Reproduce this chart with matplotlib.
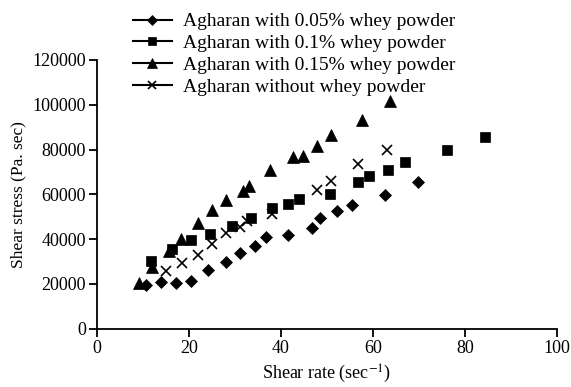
import matplotlib
matplotlib.use("Agg")
import matplotlib.pyplot as plt
from matplotlib.lines import Line2D

plt.rcParams['font.family'] = ['Liberation Serif', 'DejaVu Serif']
plt.rcParams['mathtext.fontset'] = 'stix'

labels = ["Agharan with 0.05% whey powder",
          "Agharan with 0.1% whey powder",
          "Agharan with 0.15% whey powder",
          "Agharan without whey powder"]

x_005 = [10.7, 13.8, 17.2, 20.4, 24.2, 28.1, 31.2, 34.3, 36.7, 41.5, 46.7, 48.5, 52.1, 55.4, 62.6, 69.8]
y_005 = [19600, 21000, 20300, 21200, 26100, 30000, 33600, 37100, 40900, 41800, 44800, 49500, 52400, 55200, 59700, 65300]

x_01 = [11.7, 16.2, 20.4, 24.6, 29.3, 33.5, 38.0, 41.5, 44.0, 50.7, 56.7, 59.1, 63.2, 67.1, 76.1, 84.5]
y_01 = [30400, 35700, 39700, 42400, 45900, 49500, 53900, 55900, 57900, 60300, 65500, 68000, 71000, 74300, 79800, 85600]

x_015 = [9.2, 11.9, 15.7, 18.2, 21.9, 24.9, 28.0, 31.8, 33.1, 37.6, 42.7, 44.7, 47.9, 50.8, 57.7, 63.8]
y_015 = [20300, 27700, 34500, 40100, 47100, 52800, 57300, 61300, 63800, 71000, 76700, 77300, 81400, 86400, 93100, 101600]

x_0 = [15.0, 18.4, 21.9, 24.9, 28.0, 31.2, 32.7, 38.0, 47.8, 51.0, 56.8, 63.1]
y_0 = [25800, 29300, 32700, 37900, 42700, 45600, 47900, 51200, 62100, 66100, 73700, 80000]

x_ticks = [0, 20, 40, 60, 80, 100]
y_ticks = [0, 20000, 40000, 60000, 80000, 100000, 120000]

fig = plt.figure(figsize=(5.71, 3.87), dpi=100)
ax = fig.add_axes([0.170, 0.1506, 0.805, 0.6944])

series = [(x_005, y_005, 'D', 6.5), (x_01, y_01, 's', 7.5), (x_015, y_015, '^', 8), (x_0, y_0, 'x', 6.5)]
for (xs, ys, m, ms) in series:
    ax.plot(xs, ys, linestyle='none', marker=m, markersize=ms, color='black',
            markeredgewidth=1.2 if m == 'x' else 0.5, clip_on=False)

ax.set_xlim(0, 100)
ax.set_ylim(0, 120000)
ax.set_xticks(x_ticks)
ax.set_yticks(y_ticks)
ax.tick_params(direction='out', length=6, width=1.3, labelsize=13, colors='black', pad=2)
for s in ['top', 'right']:
    ax.spines[s].set_visible(False)
for s in ['left', 'bottom']:
    ax.spines[s].set_linewidth(1.3)
ax.set_xlabel("Shear rate (sec$^{-1}$)", fontsize=13, labelpad=4)
ax.set_ylabel("Shear stress (Pa. sec)", fontsize=12.5, labelpad=4)

handles = []
for (xs, ys, m, ms) in series:
    handles.append(Line2D([0], [0], color='black', lw=1.5, marker=m,
                          markersize=ms * 0.85, markeredgewidth=1.2 if m == 'x' else 0.5))
fig.legend(handles, labels, loc='upper left', bbox_to_anchor=(0.233, 0.967),
           frameon=False, fontsize=14, handlelength=2.0, labelspacing=0.22,
           handletextpad=0.57, borderaxespad=0, borderpad=0)

fig.savefig("out.png", dpi=100)
